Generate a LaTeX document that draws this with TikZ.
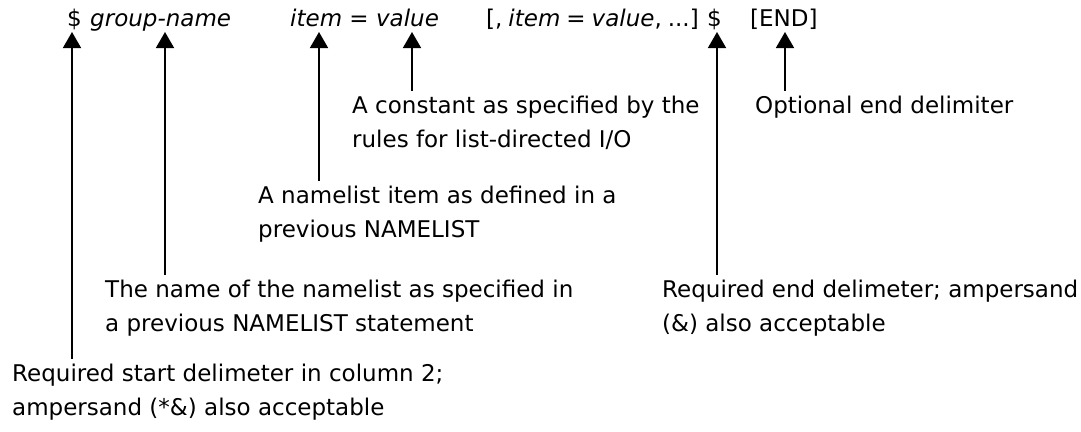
\documentclass[tikz,border=0pt]{standalone}
\usepackage{fontspec}
\setmainfont{DejaVu Sans}
\usetikzlibrary{arrows.meta}
\tikzset{
  txt/.style={anchor=base west, inner sep=0pt, font=\fontsize{23}{34}\selectfont},
  lbl/.style={txt, text height=22pt, text depth=6pt},
  arr/.style={draw=black, line width=1.6pt, -{Triangle[width=18pt,length=16pt]}},
}
\begin{document}
\begin{tikzpicture}[x=1pt,y=-1pt]
\useasboundingbox (0,0) rectangle (1081,431);
% top line
\node[txt] (dol) at (67,27) {\$};
\node[txt] (grp) at (90,27) {\itshape group-name};
\node[txt] (itv) at (290,27) {\itshape item \upshape= \itshape value};
\node[txt] (rest) at (486,27) {\spaceskip=6pt [, \itshape item \upshape= \itshape value\upshape, ...]};
\node[txt] (edol) at (707,27) {\$};
\node[txt] (endk) at (750,27) {[END]};
% arrow tips
\coordinate (t1) at (72,32);
\coordinate (t2) at (165,32);
\coordinate (t3) at (319,32);
\coordinate (t4) at (412,32);
\coordinate (t5) at (717,32);
\coordinate (t6) at (785,32);
% labels
\node[lbl] (L1a) at (352,113) {A constant as specified by the};
\node[lbl] (L1b) at (352,147) {rules for list-directed I/O};
\node[lbl] (L2a) at (755,113) {Optional end delimiter};
\node[lbl] (L3a) at (258,203) {A namelist item as defined in a};
\node[lbl] (L3b) at (258,237) {previous NAMELIST};
\node[lbl] (L4a) at (105,297) {The name of the namelist as specified in};
\node[lbl] (L4b) at (105,331) {a previous NAMELIST statement};
\node[lbl] (L5a) at (662,297) {Required end delimeter; ampersand};
\node[lbl] (L5b) at (662,331) {(\&) also acceptable};
\node[lbl] (L6a) at (12,381) {Required start delimeter in column 2;};
\node[lbl] (L6b) at (12,415) {ampersand (*\&) also acceptable};
% connectors
\draw[arr] (L6a.north -| t1) -- (t1);
\draw[arr] (L4a.north -| t2) -- (t2);
\draw[arr] (L3a.north -| t3) -- (t3);
\draw[arr] (L1a.north -| t4) -- (t4);
\draw[arr] (L5a.north -| t5) -- (t5);
\draw[arr] (L2a.north -| t6) -- (t6);
\end{tikzpicture}
\end{document}
